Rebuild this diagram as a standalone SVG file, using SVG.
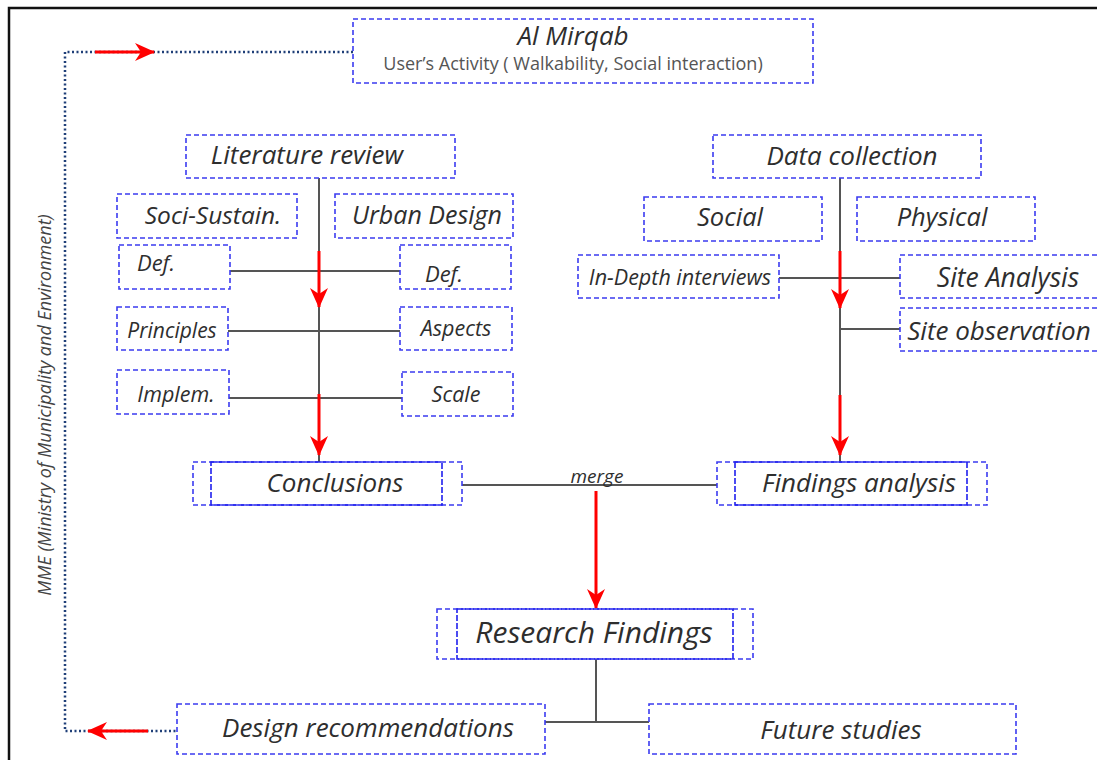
<svg xmlns="http://www.w3.org/2000/svg" width="1097" height="760" viewBox="0 0 1097 760">
<defs>
<style>
.box{fill:#fff;stroke:#3b3bf0;stroke-width:1.6;stroke-dasharray:5,3}
.inner{fill:none;stroke:#2020ee;stroke-width:1.6;stroke-dasharray:6,2}
.t{font-family:"Open Sans","Noto Sans",sans-serif;font-style:italic;fill:#2e2e2e;text-anchor:middle}
.ln{stroke:#555;stroke-width:2;fill:none}
.red{stroke:#ff0000;stroke-width:3;fill:none}
.dot{stroke:#1f3f78;stroke-width:2.5;stroke-dasharray:2,2.5;fill:none}
</style>
<marker id="ahL" viewBox="0 0 20 18" refX="19" refY="9" markerWidth="20" markerHeight="18" markerUnits="userSpaceOnUse" orient="auto">
<path d="M0,0 L20,9 L0,18 L6,9 Z" fill="#ff0000"/>
</marker>
</defs>
<rect x="0" y="0" width="1097" height="760" fill="#fff"/>
<rect x="9" y="8" width="1100" height="770" fill="none" stroke="#111" stroke-width="2.5"/>

<g id="connectors">
<polyline class="dot" points="353,52 65,52 65,731 177,731"/>
<line class="red" x1="95" y1="52" x2="154" y2="52" marker-end="url(#ahL)"/>
<line class="red" x1="148" y1="731" x2="88" y2="731" marker-end="url(#ahL)"/>
<line class="ln" x1="319" y1="178" x2="319" y2="462"/>
<line class="ln" x1="230" y1="271" x2="400" y2="271"/>
<line class="ln" x1="228" y1="331" x2="400" y2="331"/>
<line class="ln" x1="229" y1="398" x2="402" y2="398"/>
<line class="red" x1="319" y1="251" x2="319" y2="307" marker-end="url(#ahL)"/>
<line class="red" x1="319" y1="394" x2="319" y2="455" marker-end="url(#ahL)"/>
<line class="ln" x1="840" y1="178" x2="840" y2="462"/>
<line class="ln" x1="779" y1="278" x2="900" y2="278"/>
<line class="ln" x1="840" y1="329" x2="900" y2="329"/>
<line class="red" x1="840" y1="251" x2="840" y2="308" marker-end="url(#ahL)"/>
<line class="red" x1="840" y1="395" x2="840" y2="455" marker-end="url(#ahL)"/>
<line class="ln" x1="462" y1="485" x2="717" y2="485"/>
<text class="t" x="597" y="483" font-size="19">merge</text>
<line class="red" x1="596" y1="491" x2="596" y2="608" marker-end="url(#ahL)"/>
<line class="ln" x1="596" y1="659" x2="596" y2="722"/>
<line class="ln" x1="545" y1="722" x2="649" y2="722"/>
</g>

<text x="51" y="405" transform="rotate(-90 51 405)" text-anchor="middle" font-family="Open Sans, Noto Sans, sans-serif" font-style="italic" font-size="18" fill="#444">MME (Ministry of Municipality and Environment)</text>

<g id="mirqab">
<rect class="box" x="353" y="19" width="460" height="64"/>
<text class="t" x="573" y="45" font-size="26">Al Mirqab</text>
<text x="573" y="70" font-size="18" text-anchor="middle" font-family="Open Sans, Noto Sans, sans-serif" fill="#555">User’s Activity ( Walkability, Social interaction)</text>
</g>

<g id="lit"><rect class="box" x="186" y="135" width="269" height="43"/><text class="t" x="307" y="164" font-size="26">Literature review</text></g>
<g id="data"><rect class="box" x="713" y="135" width="268" height="43"/><text class="t" x="852" y="165" font-size="26">Data collection</text></g>
<g id="soci"><rect class="box" x="117" y="194" width="180" height="44"/><text class="t" x="213" y="224" font-size="24.5">Soci-Sustain.</text></g>
<g id="urban"><rect class="box" x="335" y="194" width="178" height="44"/><text class="t" x="427" y="224" font-size="25">Urban Design</text></g>
<g id="social"><rect class="box" x="644" y="197" width="178" height="44"/><text class="t" x="730" y="226" font-size="25.5">Social</text></g>
<g id="physical"><rect class="box" x="857" y="197" width="178" height="44"/><text class="t" x="942" y="226" font-size="25.5">Physical</text></g>

<g id="defL"><rect class="box" x="119" y="245" width="111" height="44"/><text class="t" x="156" y="271" font-size="22">Def.</text></g>
<g id="defR"><rect class="box" x="400" y="245" width="111" height="44"/><text class="t" x="444" y="282" font-size="22">Def.</text></g>
<g id="principles"><rect class="box" x="117" y="307" width="111" height="43"/><text class="t" x="172" y="338" font-size="21">Principles</text></g>
<g id="aspects"><rect class="box" x="400" y="307" width="112" height="43"/><text class="t" x="456" y="336" font-size="21.5">Aspects</text></g>
<g id="implem"><rect class="box" x="117" y="370" width="112" height="44"/><text class="t" x="176" y="402" font-size="21.5">Implem.</text></g>
<g id="scale"><rect class="box" x="402" y="372" width="111" height="44"/><text class="t" x="456" y="402" font-size="21.5">Scale</text></g>

<g id="interviews"><rect class="box" x="578" y="255" width="201" height="43"/><text class="t" x="680" y="285" font-size="21.5">In-Depth interviews</text></g>
<g id="siteAnalysis"><rect class="box" x="900" y="255" width="205" height="43"/><text class="t" x="1008" y="287" font-size="26.5">Site Analysis</text></g>
<g id="siteObs"><rect class="box" x="900" y="308" width="205" height="43"/><text class="t" x="999" y="340" font-size="26">Site observation</text></g>

<g id="conclusions"><rect class="box" x="193" y="462" width="269" height="43"/><rect class="inner" x="211" y="462" width="231" height="43"/><text class="t" x="335" y="492" font-size="26">Conclusions</text></g>
<g id="findings"><rect class="box" x="717" y="462" width="270" height="43"/><rect class="inner" x="735" y="462" width="232" height="43"/><text class="t" x="859" y="492" font-size="26">Findings analysis</text></g>
<g id="research"><rect class="box" x="437" y="609" width="316" height="50"/><rect class="inner" x="457" y="609" width="276" height="50"/><text class="t" x="594" y="643" font-size="30">Research Findings</text></g>

<g id="design"><rect class="box" x="177" y="704" width="368" height="50"/><text class="t" x="368" y="737" font-size="26">Design recommendations</text></g>
<g id="future"><rect class="box" x="649" y="704" width="367" height="50"/><text class="t" x="841" y="739" font-size="26">Future studies</text></g>
</svg>
